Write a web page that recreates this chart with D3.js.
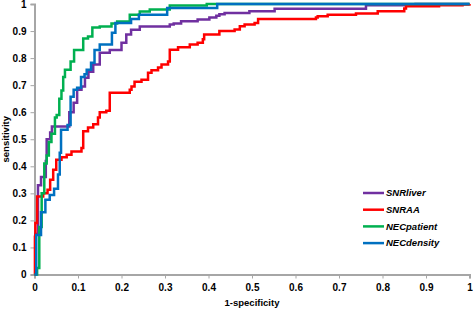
<!DOCTYPE html>
<html>
<head>
<meta charset="utf-8">
<script src="https://cdn.jsdelivr.net/npm/d3@7"></script>
<style>
  html, body { margin: 0; padding: 0; background: #fff; }
  #chart { width: 473px; height: 309px; }
  text { font-family: "Liberation Sans", Arial, sans-serif; font-weight: bold; }
</style>
</head>
<body>
<div id="chart"></div>
<script>
// series names (legend order = draw order)
const seriesNames = ["SNRliver", "SNRAA", "NECpatient", "NECdensity"];
const seriesColors = ["#7030A0", "#FF0000", "#00B050", "#0070C0"];
const ticks = [0, 0.1, 0.2, 0.3, 0.4, 0.5, 0.6, 0.7, 0.8, 0.9, 1];

// [1-specificity, sensitivity]
const snrLiver = [
  [0, 0], [0.002, 0.15], [0.008, 0.33], [0.015, 0.36], [0.026, 0.42],
  [0.028, 0.5], [0.036, 0.525], [0.04, 0.547], [0.08, 0.6], [0.09, 0.635],
  [0.098, 0.683], [0.108, 0.695], [0.116, 0.727], [0.124, 0.75], [0.135, 0.776],
  [0.15, 0.82], [0.173, 0.83], [0.2, 0.857], [0.211, 0.887], [0.222, 0.905],
  [0.242, 0.917], [0.311, 0.924], [0.32, 0.928], [0.337, 0.936], [0.375, 0.943],
  [0.402, 0.95], [0.418, 0.957], [0.425, 0.962], [0.437, 0.967], [0.494, 0.973],
  [0.552, 0.982], [0.762, 0.995], [0.876, 1], [1, 1]
];
const snrAA = [
  [0, 0], [0.001, 0.14], [0.002, 0.19], [0.006, 0.288], [0.02, 0.3],
  [0.03, 0.313], [0.036, 0.35], [0.043, 0.387], [0.05, 0.424], [0.062, 0.433],
  [0.074, 0.443], [0.085, 0.455], [0.108, 0.468], [0.112, 0.53], [0.123, 0.543],
  [0.135, 0.555], [0.146, 0.58], [0.15, 0.6], [0.165, 0.605], [0.173, 0.672],
  [0.219, 0.683], [0.223, 0.695], [0.23, 0.713], [0.246, 0.72], [0.261, 0.746],
  [0.269, 0.755], [0.284, 0.765], [0.292, 0.776], [0.307, 0.787], [0.311, 0.831],
  [0.33, 0.84], [0.357, 0.85], [0.375, 0.857], [0.387, 0.87], [0.39, 0.887],
  [0.425, 0.9], [0.46, 0.906], [0.472, 0.918], [0.483, 0.924], [0.506, 0.93],
  [0.514, 0.945], [0.647, 0.95], [0.651, 0.955], [0.674, 0.96], [0.739, 0.965],
  [0.789, 0.973], [0.85, 0.983], [0.854, 0.992], [0.93, 0.995], [0.984, 0.998],
  [1, 1]
];
const necPatient = [
  [0, 0], [0.006, 0.024], [0.011, 0.176], [0.0165, 0.3], [0.0225, 0.41],
  [0.028, 0.44], [0.033, 0.49], [0.039, 0.52], [0.047, 0.58], [0.051, 0.59],
  [0.057, 0.65], [0.062, 0.68], [0.066, 0.73], [0.07, 0.757], [0.083, 0.787],
  [0.091, 0.83], [0.112, 0.872], [0.123, 0.88], [0.133, 0.913], [0.15, 0.917],
  [0.177, 0.928], [0.19, 0.935], [0.219, 0.96], [0.242, 0.972], [0.265, 0.98],
  [0.311, 0.994], [0.396, 1], [1, 1]
];
const necDensity = [
  [0, 0], [0.004, 0.146], [0.015, 0.23], [0.025, 0.276], [0.035, 0.294],
  [0.045, 0.317], [0.054, 0.37], [0.058, 0.45], [0.061, 0.535], [0.076, 0.553],
  [0.083, 0.657], [0.09, 0.683], [0.098, 0.69], [0.107, 0.73], [0.115, 0.74],
  [0.12, 0.757], [0.13, 0.783], [0.138, 0.83], [0.15, 0.85], [0.178, 0.894],
  [0.186, 0.93], [0.222, 0.945], [0.24, 0.96], [0.305, 0.985], [0.42, 1], [1, 1]
];

const seriesValues = [snrLiver, snrAA, necPatient, necDensity];

const width = 473, height = 309;
const margin = { top: 4, left: 34.5, right: 3.5, bottom: 34.5 };
const axisColor = "#a6a6a6";

const svg = d3.select("#chart").append("svg")
  .attr("width", width)
  .attr("height", height);

const x = d3.scaleLinear().domain([0, 1]).range([margin.left, width - margin.right]);
const y = d3.scaleLinear().domain([0, 1]).range([height - margin.bottom, margin.top]);

// y axis
const yAxis = svg.append("g")
  .attr("transform", `translate(${x(0)},0)`)
  .call(d3.axisLeft(y).tickValues(ticks).tickFormat(d3.format("~g")).tickSize(4).tickPadding(4));

// x axis
const xAxis = svg.append("g")
  .attr("transform", `translate(0,${y(0)})`)
  .call(d3.axisBottom(x).tickValues(ticks).tickFormat(d3.format("~g")).tickSize(4).tickPadding(5));

[yAxis, xAxis].forEach(g => {
  g.select(".domain").attr("stroke", axisColor).attr("stroke-width", 2);
  g.selectAll(".tick line").attr("stroke", axisColor).attr("stroke-width", 1);
  g.selectAll(".tick text")
    .attr("fill", "#000")
    .style("font-size", "10px")
    .style("font-family", "'Liberation Sans', Arial, sans-serif")
    .style("font-weight", "bold");
});

// axis titles
svg.append("text")
  .attr("x", (x(0) + x(1)) / 2)
  .attr("y", 306)
  .attr("text-anchor", "middle")
  .style("font-size", "9.5px")
  .text("1-specificity");

svg.append("text")
  .attr("transform", `translate(9,${(y(0) + y(1)) / 2}) rotate(-90)`)
  .attr("text-anchor", "middle")
  .style("font-size", "9.5px")
  .text("sensitivity");

// ROC step curves
const line = d3.line()
  .x(d => x(d[0]))
  .y(d => y(d[1]))
  .curve(d3.curveStepAfter);

svg.append("g")
  .selectAll("path")
  .data(seriesValues)
  .enter()
  .append("path")
  .attr("d", d => line(d))
  .attr("fill", "none")
  .attr("stroke", (d, i) => seriesColors[i])
  .attr("stroke-width", 2.5);

// legend
const legend = svg.append("g").attr("transform", "translate(363,193)");
const item = legend.selectAll("g")
  .data(seriesNames)
  .enter()
  .append("g")
  .attr("transform", (d, i) => `translate(0,${i * 16.7})`);

item.append("line")
  .attr("x1", 0).attr("x2", 21)
  .attr("stroke", (d, i) => seriesColors[i])
  .attr("stroke-width", 2.5);

item.append("text")
  .attr("x", 23)
  .attr("dy", "0.35em")
  .style("font-size", "9.5px")
  .style("font-style", "italic")
  .text(d => d);
</script>
</body>
</html>
